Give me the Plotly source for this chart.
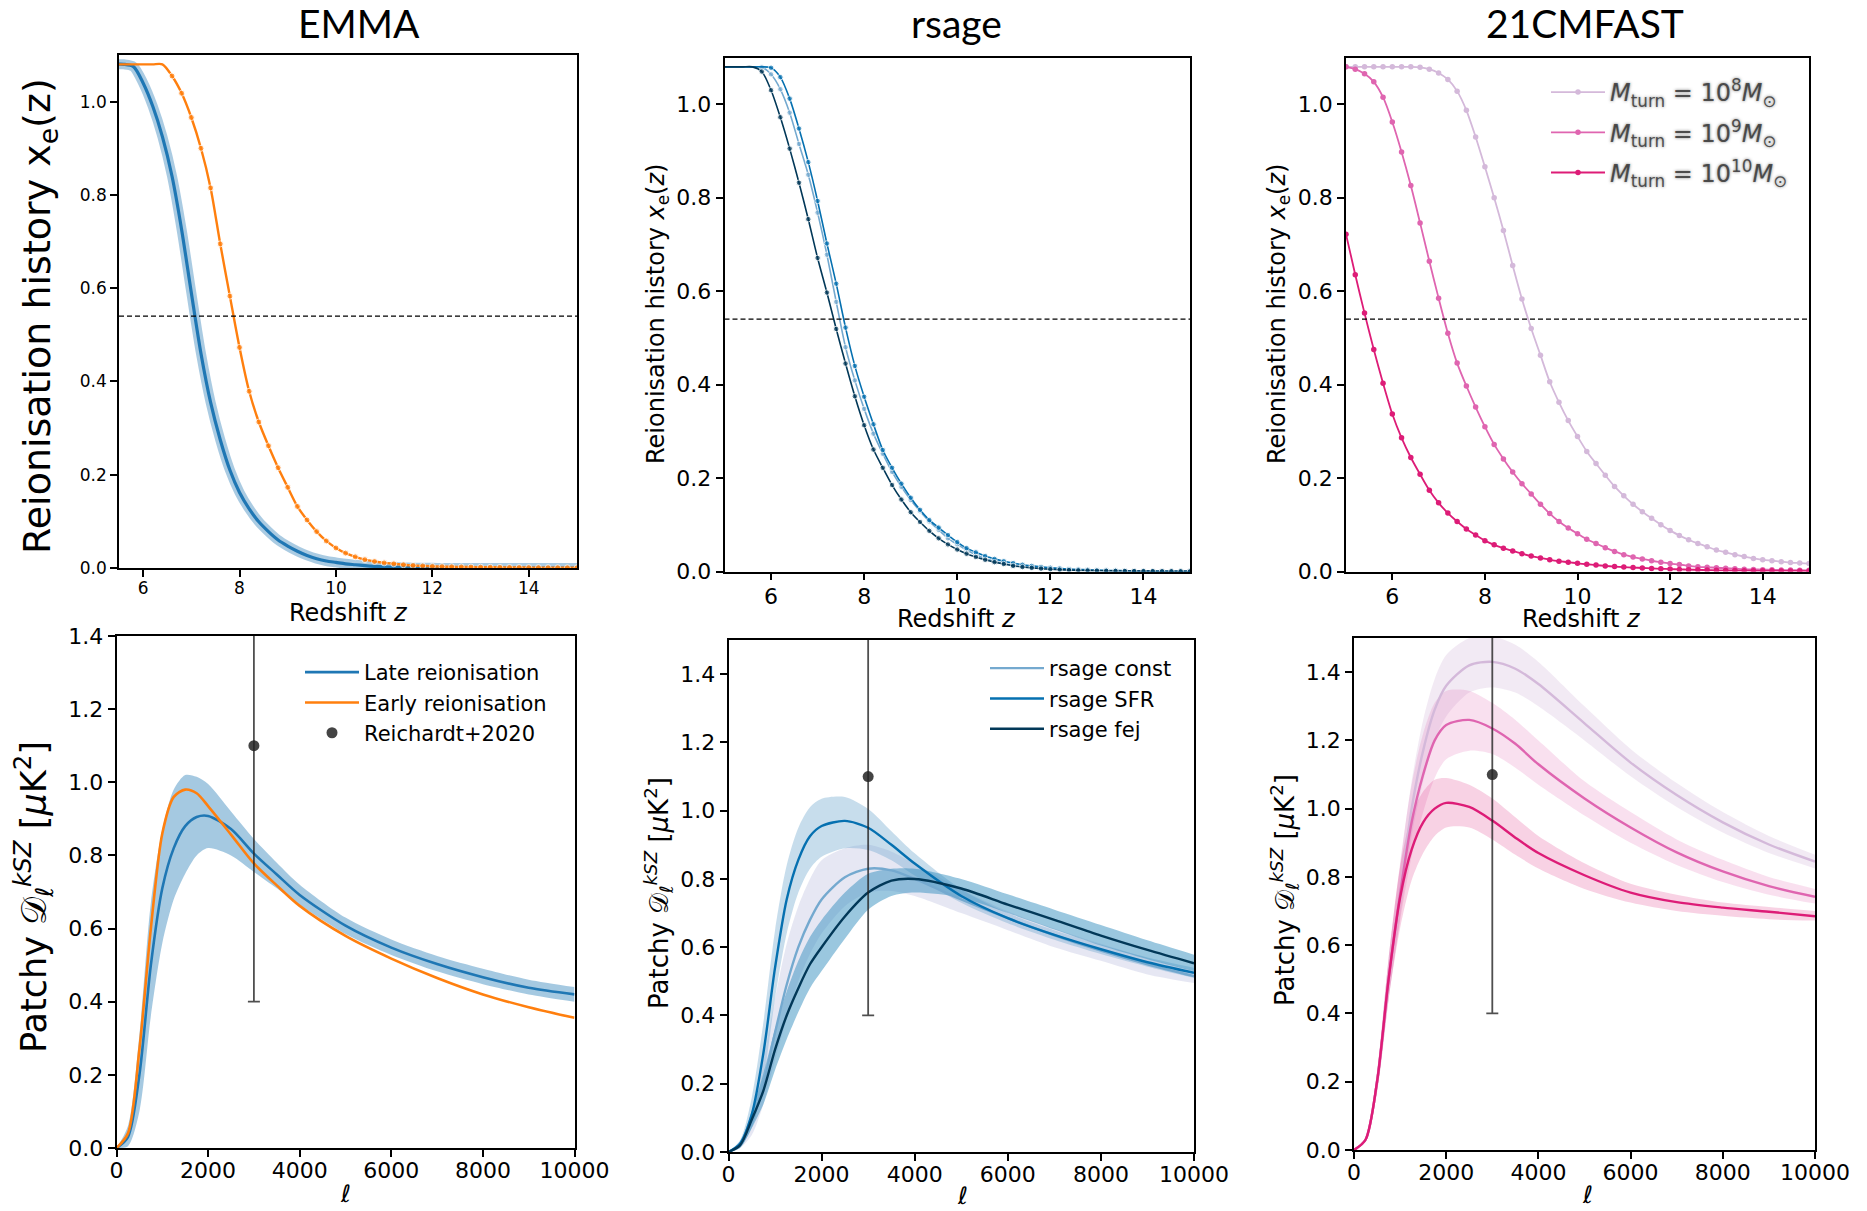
import plotly.graph_objects as go

W, H = 1867, 1211

# ---------------- reionisation histories x_e(z) ----------------
z_emma = [round(5.4 + 0.2 * i, 1) for i in range(49)]
xe_emma_late = [1.08, 1.08, 1.075, 1.04, 0.99, 0.925, 0.84, 0.725, 0.59, 0.46,
                0.355, 0.275, 0.21, 0.162, 0.127, 0.099, 0.078, 0.06, 0.047, 0.036,
                0.027, 0.02, 0.015, 0.012, 0.009, 0.007, 0.005, 0.0035, 0.0025, 0.0018,
                0.0012, 0.0008, 0.0005, 0.0003, 0.0002, 0.0002, 0.0001, 0.0001, 0.0001, 0.0001,
                0, 0, 0, 0, 0, 0, 0, 0, 0]
xe_emma_early = [1.08, 1.08, 1.08, 1.08, 1.08, 1.08, 1.055, 1.018, 0.966, 0.9,
                 0.815, 0.695, 0.583, 0.473, 0.379, 0.313, 0.262, 0.215, 0.173, 0.132,
                 0.103, 0.078, 0.058, 0.043, 0.032, 0.024, 0.018, 0.014, 0.011, 0.009,
                 0.007, 0.0055, 0.0045, 0.0035, 0.003, 0.0026, 0.0023, 0.002, 0.0018, 0.0016,
                 0.0014, 0.0012, 0.001, 0.0009, 0.0008, 0.0007, 0.0006, 0.0005, 0.0004]

z_grid = [round(5.0 + 0.2 * i, 1) for i in range(51)]
xe_rsage_const = [1.08, 1.08, 1.08, 1.08, 1.079, 1.064, 1.032, 0.982, 0.915, 0.849,
                  0.768, 0.678, 0.577, 0.48, 0.409, 0.348, 0.295, 0.252, 0.213, 0.181,
                  0.153, 0.129, 0.107, 0.089, 0.071, 0.058, 0.046, 0.036, 0.028, 0.022,
                  0.017, 0.013, 0.0105, 0.0085, 0.007, 0.0058, 0.0047, 0.0038, 0.003, 0.0024,
                  0.002, 0.0016, 0.0013, 0.001, 0.0008, 0.0006, 0.0005, 0.0004, 0.0003, 0.0002,
                  0.0002]
xe_rsage_sfr = [1.08, 1.08, 1.08, 1.08, 1.08, 1.078, 1.058, 1.012, 0.948, 0.876,
                0.793, 0.702, 0.616, 0.522, 0.44, 0.374, 0.315, 0.26, 0.222, 0.188,
                0.158, 0.132, 0.11, 0.094, 0.078, 0.063, 0.05, 0.041, 0.033, 0.027,
                0.022, 0.018, 0.0145, 0.012, 0.0098, 0.008, 0.0066, 0.0054, 0.0044, 0.0036,
                0.003, 0.0025, 0.002, 0.0016, 0.0013, 0.001, 0.0008, 0.0006, 0.0005, 0.0004,
                0.0003]
xe_rsage_fej = [1.08, 1.08, 1.08, 1.08, 1.07, 1.03, 0.972, 0.905, 0.832, 0.754,
                0.671, 0.597, 0.519, 0.445, 0.375, 0.313, 0.261, 0.222, 0.185, 0.154,
                0.127, 0.106, 0.087, 0.071, 0.058, 0.047, 0.038, 0.031, 0.025, 0.02,
                0.016, 0.012, 0.0095, 0.0078, 0.0062, 0.0048, 0.0038, 0.003, 0.0024, 0.002,
                0.0017, 0.0014, 0.0012, 0.001, 0.0009, 0.0008, 0.0007, 0.0006, 0.0005, 0.0004,
                0.0003]
xe_21cm_m8 = [1.08, 1.08, 1.08, 1.08, 1.08, 1.08, 1.08, 1.08, 1.079, 1.075,
              1.067, 1.053, 1.028, 0.987, 0.93, 0.866, 0.8, 0.73, 0.655, 0.583,
              0.52, 0.463, 0.406, 0.362, 0.323, 0.289, 0.257, 0.231, 0.206, 0.182,
              0.162, 0.144, 0.128, 0.114, 0.1, 0.088, 0.077, 0.068, 0.06, 0.053,
              0.046, 0.041, 0.036, 0.032, 0.028, 0.025, 0.023, 0.021, 0.019, 0.018,
              0.017]
xe_21cm_m9 = [1.08, 1.075, 1.065, 1.048, 1.015, 0.962, 0.898, 0.826, 0.746, 0.664,
              0.585, 0.51, 0.446, 0.397, 0.352, 0.31, 0.272, 0.241, 0.213, 0.188,
              0.166, 0.144, 0.124, 0.107, 0.093, 0.081, 0.069, 0.06, 0.051, 0.043,
              0.036, 0.031, 0.027, 0.023, 0.02, 0.017, 0.015, 0.012, 0.01, 0.009,
              0.008, 0.007, 0.006, 0.005, 0.0045, 0.004, 0.0036, 0.0032, 0.003, 0.0028,
              0.0025]
xe_21cm_m10 = [0.722, 0.635, 0.553, 0.475, 0.403, 0.337, 0.286, 0.244, 0.208, 0.174,
               0.147, 0.125, 0.107, 0.091, 0.078, 0.066, 0.057, 0.05, 0.044, 0.038,
               0.033, 0.029, 0.025, 0.022, 0.02, 0.0175, 0.0155, 0.0137, 0.012, 0.0106,
               0.0095, 0.0085, 0.0075, 0.0066, 0.0058, 0.0051, 0.0045, 0.004, 0.0035, 0.003,
               0.0026, 0.0023, 0.002, 0.0018, 0.0016, 0.0015, 0.0014, 0.0013, 0.0012, 0.0011,
               0.001]
xe_max = 1.08
xe_half = 0.54

# ---------------- patchy kSZ power spectra ----------------
ell = [0, 250, 500, 750, 1000, 1250, 1500, 1750, 2000, 2500,
       3000, 3500, 4000, 5000, 6000, 7000, 8000, 9000, 10000]

dl_emma_late = [0, 0.03, 0.2, 0.5, 0.71, 0.82, 0.88, 0.905, 0.908, 0.872,
                0.805, 0.748, 0.692, 0.608, 0.548, 0.503, 0.467, 0.438, 0.42]
dl_emma_late_hi = [0, 0.06, 0.31, 0.67, 0.87, 0.98, 1.02, 1.015, 0.995, 0.92,
                   0.845, 0.78, 0.72, 0.63, 0.57, 0.525, 0.49, 0.46, 0.44]
dl_emma_late_lo = [0, 0.005, 0.1, 0.36, 0.56, 0.68, 0.75, 0.8, 0.82, 0.8,
                   0.755, 0.71, 0.665, 0.585, 0.528, 0.483, 0.448, 0.42, 0.40]
dl_emma_early = [0, 0.04, 0.27, 0.6, 0.86, 0.96, 0.98, 0.97, 0.935, 0.857,
                 0.778, 0.718, 0.662, 0.58, 0.518, 0.465, 0.42, 0.385, 0.356]

dl_rsage_const = [0, 0.02, 0.085, 0.2, 0.35, 0.49, 0.6, 0.68, 0.74, 0.805,
                  0.83, 0.825, 0.8, 0.74, 0.685, 0.635, 0.59, 0.55, 0.515]
dl_rsage_const_hi = [0, 0.03, 0.12, 0.27, 0.45, 0.61, 0.72, 0.8, 0.855, 0.89,
                     0.9, 0.88, 0.845, 0.77, 0.705, 0.655, 0.61, 0.568, 0.53]
dl_rsage_const_lo = [0, 0.012, 0.05, 0.14, 0.27, 0.39, 0.5, 0.58, 0.64, 0.72,
                     0.76, 0.765, 0.75, 0.7, 0.65, 0.6, 0.56, 0.52, 0.495]
dl_rsage_sfr = [0, 0.025, 0.11, 0.29, 0.54, 0.74, 0.856, 0.925, 0.955, 0.97,
                0.95, 0.9, 0.845, 0.75, 0.685, 0.636, 0.594, 0.556, 0.525]
dl_rsage_sfr_hi = [0, 0.035, 0.16, 0.38, 0.65, 0.84, 0.95, 1.01, 1.035, 1.04,
                   1.005, 0.94, 0.875, 0.77, 0.7, 0.65, 0.607, 0.57, 0.54]
dl_rsage_sfr_lo = [0, 0.015, 0.07, 0.21, 0.45, 0.64, 0.76, 0.83, 0.865, 0.89,
                   0.885, 0.855, 0.81, 0.73, 0.67, 0.622, 0.58, 0.543, 0.51]
dl_rsage_fej = [0, 0.02, 0.095, 0.18, 0.3, 0.4, 0.48, 0.55, 0.6, 0.69,
                0.76, 0.795, 0.8, 0.772, 0.725, 0.68, 0.634, 0.592, 0.553]
dl_rsage_fej_hi = [0, 0.03, 0.12, 0.23, 0.36, 0.47, 0.56, 0.63, 0.68, 0.76,
                   0.815, 0.83, 0.83, 0.8, 0.755, 0.71, 0.665, 0.62, 0.578]
dl_rsage_fej_lo = [0, 0.012, 0.07, 0.14, 0.24, 0.33, 0.41, 0.48, 0.53, 0.625,
                   0.71, 0.75, 0.76, 0.745, 0.7, 0.652, 0.605, 0.565, 0.53]

dl_21cm_m8 = [0, 0.03, 0.2, 0.5, 0.75, 1.0, 1.17, 1.29, 1.36, 1.42,
              1.43, 1.41, 1.365, 1.25, 1.135, 1.04, 0.96, 0.895, 0.845]
dl_21cm_m8_hi = [0, 0.035, 0.23, 0.56, 0.83, 1.08, 1.26, 1.38, 1.45, 1.5,
                 1.505, 1.48, 1.43, 1.3, 1.175, 1.075, 0.99, 0.92, 0.865]
dl_21cm_m8_lo = [0, 0.025, 0.17, 0.44, 0.68, 0.92, 1.08, 1.2, 1.27, 1.34,
                 1.355, 1.34, 1.3, 1.2, 1.095, 1.005, 0.93, 0.87, 0.825]
dl_21cm_m9 = [0, 0.03, 0.2, 0.5, 0.75, 0.96, 1.1, 1.2, 1.245, 1.26,
              1.235, 1.19, 1.13, 1.03, 0.945, 0.872, 0.816, 0.773, 0.742]
dl_21cm_m9_hi = [0, 0.035, 0.23, 0.56, 0.84, 1.07, 1.22, 1.31, 1.345, 1.345,
                 1.31, 1.26, 1.2, 1.08, 0.99, 0.91, 0.85, 0.8, 0.765]
dl_21cm_m9_lo = [0, 0.025, 0.17, 0.44, 0.67, 0.86, 0.99, 1.09, 1.145, 1.17,
                 1.16, 1.12, 1.07, 0.98, 0.9, 0.835, 0.785, 0.748, 0.722]
dl_21cm_m10 = [0, 0.03, 0.2, 0.5, 0.74, 0.88, 0.96, 1.0, 1.017, 1.005,
               0.965, 0.915, 0.87, 0.805, 0.754, 0.726, 0.71, 0.698, 0.685]
dl_21cm_m10_hi = [0, 0.035, 0.23, 0.56, 0.83, 0.98, 1.05, 1.085, 1.09, 1.07,
                  1.03, 0.975, 0.92, 0.84, 0.78, 0.748, 0.725, 0.712, 0.70]
dl_21cm_m10_lo = [0, 0.025, 0.17, 0.44, 0.65, 0.79, 0.87, 0.92, 0.945, 0.945,
                  0.91, 0.865, 0.825, 0.765, 0.725, 0.7, 0.686, 0.676, 0.672]

# Reichardt+2020 measurement
obs_ell = [3000]
obs_dl = [1.1]
obs_err = [0.7]

# ---------------- colours ----------------
C_LATE, C_EARLY = "#1f77b4", "#ff7f0e"
C_CONST, C_SFR, C_FEJ = "#74a9cf", "#0570b0", "#023858"
C_M8, C_M9, C_M10 = "#d4b9da", "#df65b0", "#dd1c77"
C_OBS = "rgba(35,35,35,0.85)"

FONT = "DejaVu Sans"

# panel boxes in pixels: left, right, top, bottom
boxes = {
    1: (119, 577, 55, 568),
    2: (724.5, 1190, 57.5, 571.5),
    3: (1346, 1809, 57.5, 571.5),
    4: (116.5, 574.5, 636, 1148),
    5: (728.5, 1194, 640, 1152),
    6: (1354, 1815, 638, 1150),
}


def px(x):
    return x / W


def py(y):
    return 1 - y / H


fig = go.Figure()


def ax_names(k):
    return ("x" if k == 1 else f"x{k}"), ("y" if k == 1 else f"y{k}")


def add_line(k, x, y, color, width, name=None, legend=None, markers=None, msize=None,
             opacity=1.0, shape="spline"):
    xa, ya = ax_names(k)
    mode = "lines+markers" if markers else "lines"
    kw = dict(x=x, y=y, xaxis=xa, yaxis=ya, mode=mode, opacity=opacity,
              line=dict(color=color, width=width, shape=shape, smoothing=0.8),
              showlegend=name is not None, name=name or "", hoverinfo="skip")
    if markers:
        kw["marker"] = dict(color=color, size=msize if msize is not None else markers)
    if legend:
        kw["legend"] = legend
        kw["legendgroup"] = name
    fig.add_trace(go.Scatter(**kw))


def add_band(k, x, lo, hi, fillcolor):
    xa, ya = ax_names(k)
    fig.add_trace(go.Scatter(x=x, y=hi, xaxis=xa, yaxis=ya, mode="lines",
                             line=dict(width=0, shape="spline", smoothing=0.8),
                             showlegend=False, hoverinfo="skip"))
    fig.add_trace(go.Scatter(x=x, y=lo, xaxis=xa, yaxis=ya, mode="lines",
                             line=dict(width=0, shape="spline", smoothing=0.8),
                             fill="tonexty", fillcolor=fillcolor,
                             showlegend=False, hoverinfo="skip"))


def add_obs(k, legend=None):
    xa, ya = ax_names(k)
    fig.add_trace(go.Scatter(
        x=obs_ell, y=obs_dl, xaxis=xa, yaxis=ya, mode="markers",
        marker=dict(size=11, color=C_OBS),
        error_y=dict(type="data", array=obs_err, arrayminus=obs_err,
                     color="rgba(35,35,35,0.8)", thickness=1.8, width=6),
        name="Reichardt+2020", showlegend=legend is not None,
        legend=legend or "legend", legendgroup="obs", hoverinfo="skip"))


# ---- EMMA x_e(z) ----
add_line(1, z_emma, xe_emma_late, "rgba(31,119,180,0.38)", 10)
add_line(1, z_emma, xe_emma_late, C_LATE, 3.2)
add_line(1, z_emma, xe_emma_early, C_EARLY, 2.4, markers=4,
         msize=[0 if v >= xe_max else 6 for v in xe_emma_early])

# ---- rsage x_e(z) ----
for vals, col in [(xe_rsage_const, C_CONST), (xe_rsage_sfr, C_SFR), (xe_rsage_fej, C_FEJ)]:
    add_line(2, z_grid, vals, col, 1.6, markers=5,
             msize=[0 if v >= xe_max else 5.5 for v in vals])

# ---- 21CMFAST x_e(z) ----
m_labels = ["<i>M</i><sub>turn</sub> = 10<sup>8</sup><i>M</i><sub>⊙</sub>",
            "<i>M</i><sub>turn</sub> = 10<sup>9</sup><i>M</i><sub>⊙</sub>",
            "<i>M</i><sub>turn</sub> = 10<sup>10</sup><i>M</i><sub>⊙</sub>"]
for vals, col, lab in [(xe_21cm_m8, C_M8, m_labels[0]), (xe_21cm_m9, C_M9, m_labels[1]),
                       (xe_21cm_m10, C_M10, m_labels[2])]:
    add_line(3, z_grid, vals, col, 1.8, name=lab, legend="legend3", markers=5.5)

# ---- EMMA kSZ ----
add_band(4, ell, dl_emma_late_lo, dl_emma_late_hi, "rgba(31,119,180,0.40)")
add_line(4, ell, dl_emma_late, C_LATE, 2.6, name="Late reionisation", legend="legend")
add_line(4, ell, dl_emma_early, C_EARLY, 2.6, name="Early reionisation", legend="legend")
add_obs(4, legend="legend")

# ---- rsage kSZ ----
add_band(5, ell, dl_rsage_const_lo, dl_rsage_const_hi, "rgba(200,202,228,0.45)")
add_band(5, ell, dl_rsage_sfr_lo, dl_rsage_sfr_hi, "rgba(116,169,207,0.40)")
add_band(5, ell, dl_rsage_fej_lo, dl_rsage_fej_hi, "rgba(54,144,192,0.50)")
add_line(5, ell, dl_rsage_const, C_CONST, 2.4, name="rsage const", legend="legend2")
add_line(5, ell, dl_rsage_sfr, C_SFR, 2.4, name="rsage SFR", legend="legend2")
add_line(5, ell, dl_rsage_fej, C_FEJ, 2.4, name="rsage fej", legend="legend2")
add_obs(5)

# ---- 21CMFAST kSZ ----
add_band(6, ell, dl_21cm_m8_lo, dl_21cm_m8_hi, "rgba(212,185,218,0.30)")
add_band(6, ell, dl_21cm_m9_lo, dl_21cm_m9_hi, "rgba(223,101,176,0.20)")
add_band(6, ell, dl_21cm_m10_lo, dl_21cm_m10_hi, "rgba(221,28,119,0.20)")
add_line(6, ell, dl_21cm_m8, C_M8, 2.4)
add_line(6, ell, dl_21cm_m9, C_M9, 2.4)
add_line(6, ell, dl_21cm_m10, C_M10, 2.4)
add_obs(6)

# ---------------- axes ----------------
layout = dict(width=W, height=H, margin=dict(l=0, r=0, t=0, b=0, pad=0, autoexpand=False),
              paper_bgcolor="white", plot_bgcolor="white",
              font=dict(family=FONT, color="black"))

xranges = {1: [5.5, 15], 2: [5, 15], 3: [5, 15], 4: [0, 10000], 5: [0, 10000], 6: [0, 10000]}
yranges = {1: [0, 1.1], 2: [0, 1.1], 3: [0, 1.1], 4: [0, 1.4], 5: [0, 1.5], 6: [0, 1.5]}
tick_sizes = {1: 17, 2: 22, 3: 22, 4: 22, 5: 22, 6: 22}

for k, (l, r, t, b) in boxes.items():
    base = dict(showline=True, linecolor="black", linewidth=1.6, mirror=True,
                ticks="outside", ticklen=7, tickwidth=1.5, tickcolor="black",
                showgrid=False, zeroline=False, automargin=False,
                tickfont=dict(family=FONT, size=tick_sizes[k], color="black"))
    xa, ya = ax_names(k)
    xkey = "xaxis" if k == 1 else f"xaxis{k}"
    ykey = "yaxis" if k == 1 else f"yaxis{k}"
    if k <= 3:
        xt = dict(tickvals=[6, 8, 10, 12, 14], ticklabelstandoff=-3)
        yt = dict(tickvals=[0, 0.2, 0.4, 0.6, 0.8, 1.0], tickformat=".1f")
    else:
        xt = dict(tickvals=[0, 2000, 4000, 6000, 8000, 10000], tickformat="d",
                  ticklabelstandoff=-5)
        yt = dict(tickvals=[0, 0.2, 0.4, 0.6, 0.8, 1.0, 1.2, 1.4], tickformat=".1f")
    layout[xkey] = dict(base, domain=[px(l), px(r)], range=xranges[k], anchor=ya, **xt)
    layout[ykey] = dict(base, domain=[py(b), py(t)], range=yranges[k], anchor=xa, **yt)

fig.update_layout(**layout)

# 50% ionisation reference line in the x_e panels
for k in (1, 2, 3):
    xa, ya = ax_names(k)
    fig.add_shape(type="line", xref=f"{xa} domain", yref=ya, x0=0, x1=1,
                  y0=xe_half, y1=xe_half,
                  line=dict(color="black", width=1.3, dash="5px,3px"))

# ---------------- text ----------------
ann = []


def text(x, y, s, size, angle=0, family=FONT, **kw):
    ann.append(dict(x=px(x), y=py(y), xref="paper", yref="paper", text=s,
                    showarrow=False, textangle=angle, xanchor="center", yanchor="middle",
                    font=dict(family=family, size=size, color="black"), **kw))


text(359, 23, "EMMA", 39, family="Lato")
text(957, 23, "rsage", 39, family="Lato")
text(1585, 23, "21CMFAST", 39, family="Lato")

text(348, 613, "Redshift <i>z</i>", 24)
text(956, 619, "Redshift <i>z</i>", 24)
text(1581, 619, "Redshift <i>z</i>", 24)

text(345, 1194, "<i>ℓ</i>", 24)
text(962, 1196, "<i>ℓ</i>", 24)
text(1587, 1195, "<i>ℓ</i>", 24)

text(39, 316, "Reionisation history x<sub>e</sub>(z)", 38, angle=-90)
text(657, 314, "Reionisation history <i>x</i><sub>e</sub>(<i>z</i>)", 24, angle=-90)
text(1278, 314, "Reionisation history <i>x</i><sub>e</sub>(<i>z</i>)", 24, angle=-90)

dl_label = "Patchy 𝒟<sub>ℓ</sub><sup><i>kSZ</i></sup> [<i>μ</i>K<sup>2</sup>]"
text(33, 897, dl_label, 35, angle=-90)
text(658, 893, dl_label, 26, angle=-90)
text(1284, 890, dl_label, 26, angle=-90)

fig.update_layout(annotations=ann)

# ---------------- legends ----------------
leg_common = dict(bgcolor="rgba(0,0,0,0)", borderwidth=0, xanchor="left", yanchor="top",
                  itemwidth=54, traceorder="grouped", tracegroupgap=0)
fig.update_layout(
    legend=dict(leg_common, x=px(300), y=py(652),
                font=dict(family=FONT, size=21, color="black")),
    legend2=dict(leg_common, x=px(985), y=py(648),
                 font=dict(family=FONT, size=21, color="black")),
    legend3=dict(leg_common, x=px(1546), y=py(70), tracegroupgap=6,
                 font=dict(family=FONT, size=24, color="rgba(45,45,45,0.8)",
                           shadow="0px 0px 3px rgba(70,70,70,0.9)")),
)

fig.write_html("out.html")
